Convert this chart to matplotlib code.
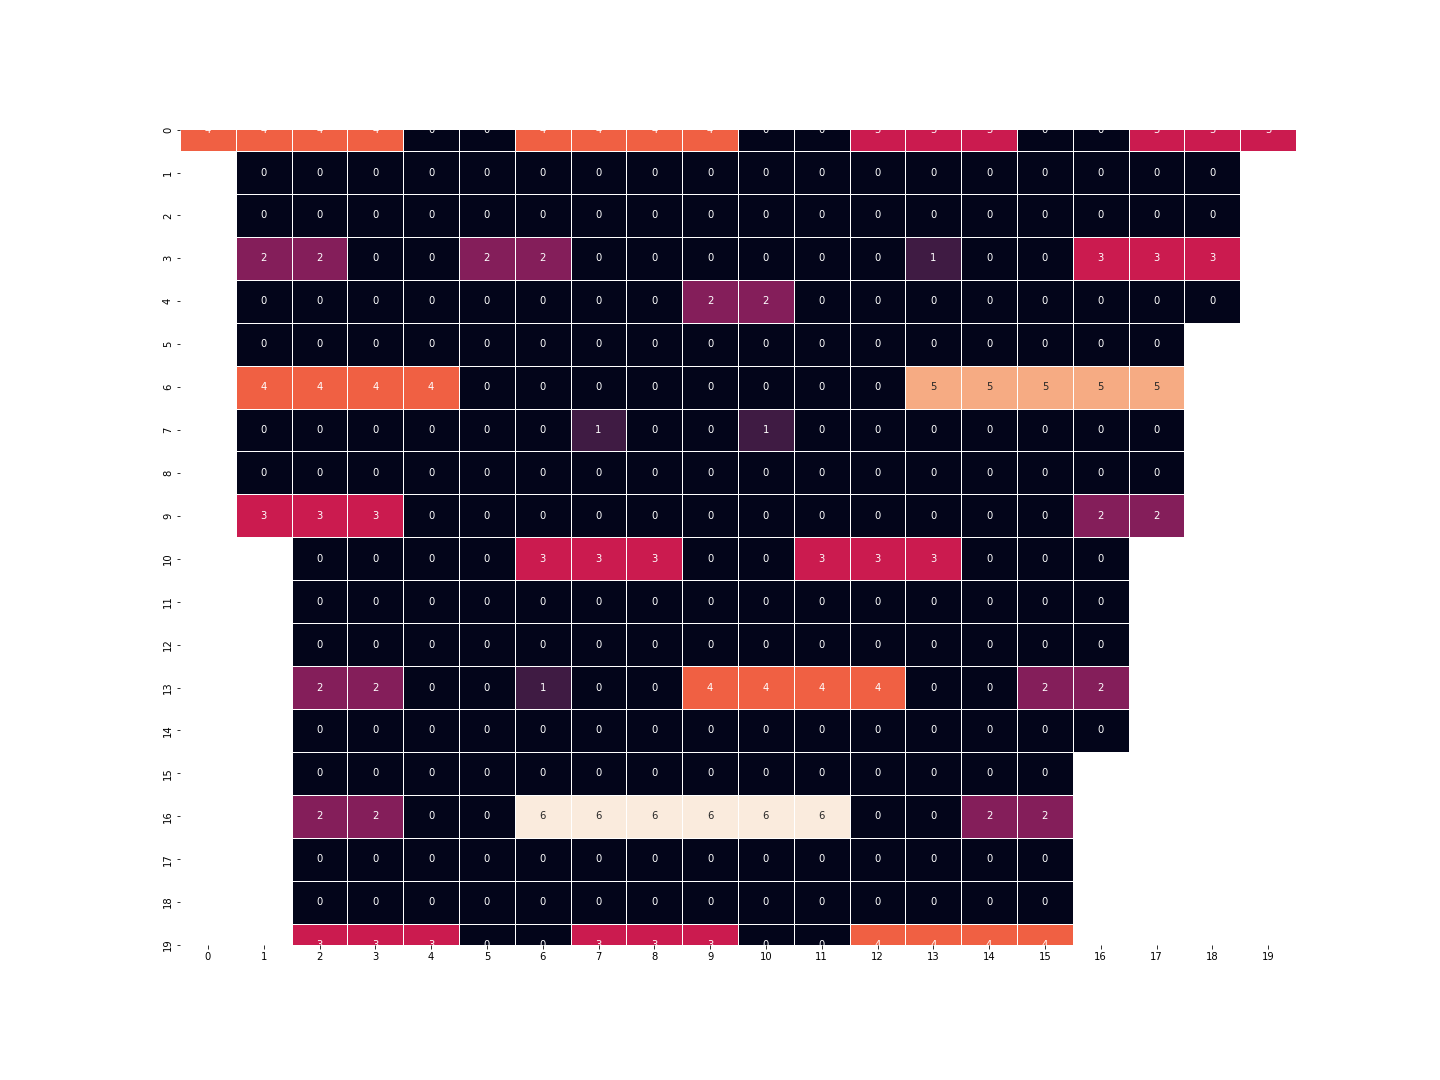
import numpy as np
import pandas as pd
import seaborn as sns
import matplotlib
matplotlib.use("Agg")
import matplotlib.pyplot as plt

n = np.nan

# one list per grid row, nan = empty cell
row_0 = [4, 4, 4, 4, 0, 0, 4, 4, 4, 4, 0, 0, 3, 3, 3, 0, 0, 3, 3, 3]
row_1 = [n, 0, 0, 0, 0, 0, 0, 0, 0, 0, 0, 0, 0, 0, 0, 0, 0, 0, 0, n]
row_2 = [n, 0, 0, 0, 0, 0, 0, 0, 0, 0, 0, 0, 0, 0, 0, 0, 0, 0, 0, n]
row_3 = [n, 2, 2, 0, 0, 2, 2, 0, 0, 0, 0, 0, 0, 1, 0, 0, 3, 3, 3, n]
row_4 = [n, 0, 0, 0, 0, 0, 0, 0, 0, 2, 2, 0, 0, 0, 0, 0, 0, 0, 0, n]
row_5 = [n, 0, 0, 0, 0, 0, 0, 0, 0, 0, 0, 0, 0, 0, 0, 0, 0, 0, n, n]
row_6 = [n, 4, 4, 4, 4, 0, 0, 0, 0, 0, 0, 0, 0, 5, 5, 5, 5, 5, n, n]
row_7 = [n, 0, 0, 0, 0, 0, 0, 1, 0, 0, 1, 0, 0, 0, 0, 0, 0, 0, n, n]
row_8 = [n, 0, 0, 0, 0, 0, 0, 0, 0, 0, 0, 0, 0, 0, 0, 0, 0, 0, n, n]
row_9 = [n, 3, 3, 3, 0, 0, 0, 0, 0, 0, 0, 0, 0, 0, 0, 0, 2, 2, n, n]
row_10 = [n, n, 0, 0, 0, 0, 3, 3, 3, 0, 0, 3, 3, 3, 0, 0, 0, n, n, n]
row_11 = [n, n, 0, 0, 0, 0, 0, 0, 0, 0, 0, 0, 0, 0, 0, 0, 0, n, n, n]
row_12 = [n, n, 0, 0, 0, 0, 0, 0, 0, 0, 0, 0, 0, 0, 0, 0, 0, n, n, n]
row_13 = [n, n, 2, 2, 0, 0, 1, 0, 0, 4, 4, 4, 4, 0, 0, 2, 2, n, n, n]
row_14 = [n, n, 0, 0, 0, 0, 0, 0, 0, 0, 0, 0, 0, 0, 0, 0, 0, n, n, n]
row_15 = [n, n, 0, 0, 0, 0, 0, 0, 0, 0, 0, 0, 0, 0, 0, 0, n, n, n, n]
row_16 = [n, n, 2, 2, 0, 0, 6, 6, 6, 6, 6, 6, 0, 0, 2, 2, n, n, n, n]
row_17 = [n, n, 0, 0, 0, 0, 0, 0, 0, 0, 0, 0, 0, 0, 0, 0, n, n, n, n]
row_18 = [n, n, 0, 0, 0, 0, 0, 0, 0, 0, 0, 0, 0, 0, 0, 0, n, n, n, n]
row_19 = [n, n, 3, 3, 3, 0, 0, 3, 3, 3, 0, 0, 4, 4, 4, 4, n, n, n, n]

rows = [row_0, row_1, row_2, row_3, row_4, row_5, row_6, row_7, row_8, row_9,
        row_10, row_11, row_12, row_13, row_14, row_15, row_16, row_17, row_18, row_19]

df = pd.DataFrame(rows)
mask = df.isna()

fig = plt.figure(figsize=(20, 15), dpi=72)
ax = fig.add_subplot(111)
fig.subplots_adjust(left=0.125, right=0.9, top=0.88, bottom=0.125)

sns.heatmap(df, mask=mask, cmap="rocket", vmin=0, vmax=6, annot=True,
            linewidths=1, linecolor="white", cbar=False, ax=ax)

# half rows at top and bottom, like the old matplotlib 3.1.1 look
ax.set_ylim(19.5, 0.5)
plt.setp(ax.get_yticklabels(), rotation=90, va="center")
plt.setp(ax.get_xticklabels(), rotation=0)
for t in ax.texts:
    t.set_clip_on(True)

fig.savefig("out.png", dpi=72)
